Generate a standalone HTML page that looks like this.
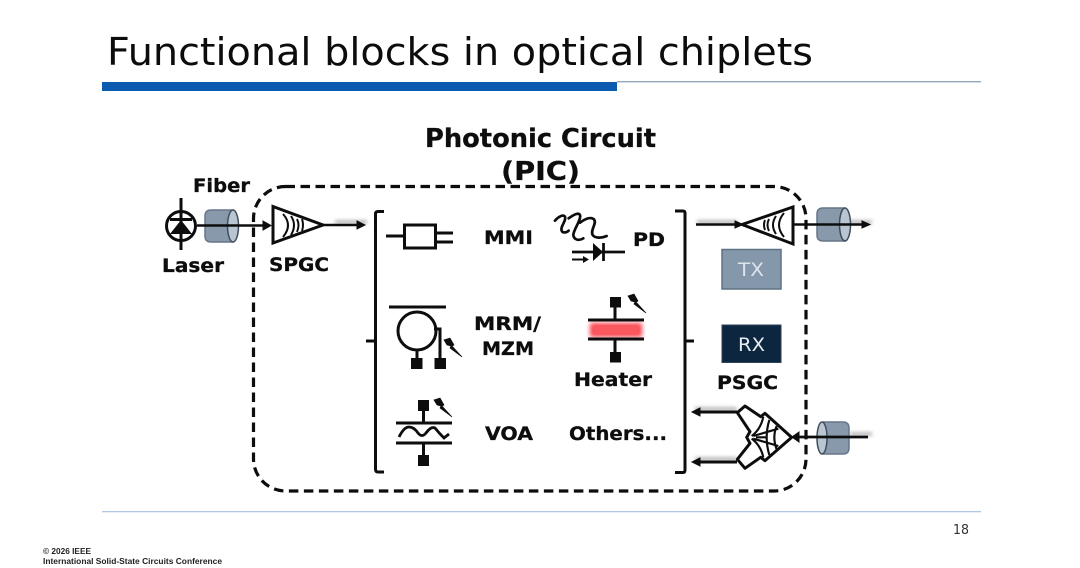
<!DOCTYPE html>
<html>
<head>
<meta charset="utf-8">
<style>
html,body{margin:0;padding:0;background:#fff;width:1080px;height:568px;overflow:hidden}
svg{display:block}
.b{font-family:"DejaVu Sans",sans-serif;font-weight:700;font-size:19px;fill:#111;stroke:#111;stroke-width:.3}
</style>
</head>
<body>
<svg width="1080" height="568" viewBox="0 0 1080 568" xmlns="http://www.w3.org/2000/svg">
<defs>
<filter id="g" x="-30%" y="-300%" width="160%" height="700%"><feGaussianBlur stdDeviation="1.800"/></filter>
<filter id="h" x="-20%" y="-50%" width="140%" height="200%"><feGaussianBlur stdDeviation="2.500"/></filter>
<filter id="s"><feGaussianBlur stdDeviation="0.350"/></filter>
<path id="bolt" d="M0 2L6 0L10 7L8 8L18 19L6 10L7 8L3 7Z" fill="#111" stroke="#111" stroke-width=".7"/>
</defs>
<rect width="1080" height="568" fill="#fff"/>

<text x="107" y="65" font-family="'DejaVu Sans',sans-serif" font-size="38.500" fill="#0c0c0c" textLength="706" lengthAdjust="spacingAndGlyphs">Functional blocks in optical chiplets</text>
<rect x="617" y="81" width="364" height="1.400" fill="#92aabd"/>
<rect x="102" y="82" width="515" height="9" fill="#0b5cb0"/>
<rect x="102" y="511" width="879" height="1.300" fill="#b3c6e2"/>
<text x="953" y="534" font-family="'DejaVu Sans',sans-serif" font-size="13" fill="#333" textLength="16" lengthAdjust="spacingAndGlyphs">18</text>
<text x="43" y="554" font-family="'Liberation Sans',sans-serif" font-weight="700" font-size="8" fill="#222" textLength="48" lengthAdjust="spacingAndGlyphs">© 2026 IEEE</text>
<text x="43" y="564" font-family="'Liberation Sans',sans-serif" font-weight="700" font-size="8" fill="#222" textLength="179" lengthAdjust="spacingAndGlyphs">International Solid-State Circuits Conference</text>

<g filter="url(#s)">
<text class="b" x="425" y="147" style="font-size:26px" textLength="231" lengthAdjust="spacingAndGlyphs">Photonic Circuit</text>
<text class="b" x="501" y="180" style="font-size:26px" textLength="79" lengthAdjust="spacingAndGlyphs">(PIC)</text>
<text class="b" x="193" y="192" textLength="57" lengthAdjust="spacingAndGlyphs">Fiber</text>
<text class="b" x="162" y="272" textLength="62" lengthAdjust="spacingAndGlyphs">Laser</text>
<text class="b" x="269" y="271" textLength="60" lengthAdjust="spacingAndGlyphs">SPGC</text>
<text class="b" x="484" y="244" textLength="49" lengthAdjust="spacingAndGlyphs">MMI</text>
<text class="b" x="633" y="246" textLength="32" lengthAdjust="spacingAndGlyphs">PD</text>
<text class="b" x="474" y="330" textLength="67" lengthAdjust="spacingAndGlyphs">MRM/</text>
<text class="b" x="482" y="355" textLength="52" lengthAdjust="spacingAndGlyphs">MZM</text>
<text class="b" x="574" y="386" textLength="78" lengthAdjust="spacingAndGlyphs">Heater</text>
<text class="b" x="485" y="440" textLength="48" lengthAdjust="spacingAndGlyphs">VOA</text>
<text class="b" x="569" y="440" textLength="98" lengthAdjust="spacingAndGlyphs">Others...</text>
<text class="b" x="717" y="389" textLength="61" lengthAdjust="spacingAndGlyphs">PSGC</text>

<!-- PIC boundary -->
<rect x="253.500" y="186.500" width="552.500" height="304.500" rx="32" fill="none" stroke="#111" stroke-width="3.200" stroke-dasharray="9.500 5.500"/>

<!-- brackets -->
<path d="M384 211.500H378Q375.500 211.500 375.500 214V469Q375.500 472 378 472H384M375 341H366" fill="none" stroke="#111" stroke-width="3"/>
<path d="M675 211H683Q685 211 685 213V470Q685 472.500 683 472.500H675M685 341H694" fill="none" stroke="#111" stroke-width="3"/>

<!-- glows -->
<g fill="#bbb" filter="url(#g)">
<rect x="335" y="220" width="32" height="4"/>
<rect x="697" y="220" width="40" height="4"/>
<rect x="840" y="220" width="32" height="4"/>
<rect x="695" y="407" width="42" height="4"/>
<rect x="695" y="457" width="42" height="4"/>
<rect x="850" y="432" width="22" height="4"/>
</g>

<!-- Fiber left -->
<path d="M211 210H233V242H211Q205 242 205 236V216Q205 210 211 210Z" fill="#8799ab" stroke="#66778a" stroke-width="1.500"/>
<ellipse cx="233" cy="226" rx="5.500" ry="16" fill="#b9c6d2" stroke="#3f4e5c" stroke-width="1.500"/>

<!-- Laser -->
<circle cx="181" cy="226" r="14.500" fill="#fff" stroke="#111" stroke-width="3"/>
<path d="M181 198V250" stroke="#111" stroke-width="3"/>
<path d="M170 219.500H192" stroke="#111" stroke-width="3"/>
<path d="M170 234L192 234L181 220Z" fill="#111"/>

<path d="M197 225.500H268" stroke="#111" stroke-width="2.500"/>
<path d="M263 221L271 225.500L263 230Z" fill="#111" stroke="#111"/>

<!-- SPGC -->
<path d="M273 206.500L323 225L273 243Z" fill="#fff" stroke="#111" stroke-width="3"/>
<path d="M283 214Q293 225 283 237M291 216Q297 225 291 235M297 219Q300 225 297 232M302 219Q304 225 302 231" fill="none" stroke="#111" stroke-width="2"/>
<path d="M323 225H361" stroke="#111" stroke-width="2.500"/>
<path d="M357 221L365 225L357 229Z" fill="#111" stroke="#111"/>

<!-- MMI -->
<path d="M386 236H404M436 233H453M436 242H453" stroke="#111" stroke-width="3"/>
<rect x="404.500" y="225" width="31" height="23" fill="#fff" stroke="#111" stroke-width="3"/>

<!-- PD -->
<g transform="translate(370 200) scale(.3333)" fill="none" stroke="#111" stroke-width="8" stroke-linecap="round">
<path d="M555 62C565 50 580 42 585 50C590 62 570 80 575 92C578 100 590 98 596 92"/>
<path d="M596 55C605 48 625 35 630 45C635 58 610 90 610 105C612 122 630 122 640 115"/>
<path d="M630 68C640 60 660 48 672 58C682 70 660 90 668 105C675 115 695 115 710 108"/>
</g>
<path d="M572 252H625M603.500 243V261" stroke="#111" stroke-width="2.800" fill="none"/>
<path d="M593 243V261L603 252Z" fill="#111"/>
<path d="M572 259.500H586" stroke="#111" stroke-width="2" fill="none"/>
<path d="M583 256L589 259.500L583 263Z" fill="#111"/>

<!-- MRM -->
<path d="M389 307H446" stroke="#111" stroke-width="3"/>
<circle cx="417" cy="331" r="19" fill="none" stroke="#111" stroke-width="3"/>
<path d="M417 350V360M434 329H440V360" fill="none" stroke="#111" stroke-width="3"/>
<rect x="411" y="358" width="11.500" height="11" fill="#111"/>
<rect x="434.500" y="358" width="11.500" height="11" fill="#111"/>
<use href="#bolt" x="444" y="338"/>

<!-- Heater -->
<rect x="590" y="323" width="52" height="14" fill="#f8454f" filter="url(#h)"/>
<rect x="594" y="325" width="44" height="10" fill="#f9595f"/>
<path d="M615 305V320M615 339V355M588 320H644M588 339H644" stroke="#111" stroke-width="3"/>
<rect x="610" y="297" width="11" height="10.500" fill="#111"/>
<rect x="610" y="352" width="11" height="10.500" fill="#111"/>
<use href="#bolt" x="628" y="294"/>

<!-- VOA -->
<path d="M423.500 408V423M423.500 443V457M396 423H452M396 443H452" stroke="#111" stroke-width="3"/>
<path d="M399 437Q404 427 409 427Q414 427 418 433Q422 438 426 433Q431 426 435 428Q439 433 444 438L449 434" fill="none" stroke="#111" stroke-width="2.800"/>
<rect x="418" y="400" width="11" height="11" fill="#111"/>
<rect x="418" y="455" width="11" height="11" fill="#111"/>
<use href="#bolt" x="434" y="398"/>

<!-- TX side -->
<path d="M696 224.500H738" stroke="#111" stroke-width="2.500"/>
<path d="M735 221L743 224.500L735 228Z" fill="#111" stroke="#111"/>
<path d="M742 224.500L793 207V244Z" fill="#fff" stroke="#111" stroke-width="3"/>
<path d="M784 213Q774 225 784 237M776 216Q770 225 776 234M769 219Q766 225 769 231M765 220Q763 225 765 230" fill="none" stroke="#111" stroke-width="2"/>
<path d="M823 208H845V241H823Q817 241 817 235V214Q817 208 823 208Z" fill="#8799ab" stroke="#66778a" stroke-width="1.500"/>
<ellipse cx="845" cy="224.500" rx="5.500" ry="16.500" fill="#b9c6d2" stroke="#3f4e5c" stroke-width="1.500"/>
<path d="M793 224.500H864" stroke="#111" stroke-width="2.500"/>
<path d="M862 221L870 224.500L862 228Z" fill="#111" stroke="#111"/>

<rect x="722" y="249.500" width="59" height="39.500" fill="#8497ab" stroke="#5f7285" stroke-width="1.500"/>
<text x="738" y="276" font-family="'DejaVu Sans',sans-serif" font-size="19" fill="#dde4ea" textLength="26" lengthAdjust="spacingAndGlyphs">TX</text>
<rect x="722" y="325" width="59" height="37.500" fill="#0e2841" stroke="#2d4258" stroke-width="1"/>
<text x="738" y="351" font-family="'DejaVu Sans',sans-serif" font-size="19" fill="#e6ebf0" textLength="27" lengthAdjust="spacingAndGlyphs">RX</text>

<!-- PSGC -->
<path d="M737 412H698M737 462H698" fill="none" stroke="#111" stroke-width="3"/>
<path d="M700 408L692 412L700 416ZM700 458L692 462L700 466Z" fill="#111" stroke="#111"/>
<g transform="translate(730 400) scale(.3333)">
<path d="M22 38L45 18L92 50L105 40L185 112L105 182L92 172L45 205L22 178L60 130L50 112L60 95Z" fill="#fff" stroke="#111" stroke-width="9" stroke-linejoin="round"/>
<path d="M65 108Q92 88 100 50M65 116Q92 136 100 172M118 60Q102 112 118 165M140 78Q126 112 140 148M70 108L145 86M70 116L145 138M78 112H108" fill="none" stroke="#111" stroke-width="6.500"/>
</g>
<path d="M799 432L792 437L799 442Z" fill="#111" stroke="#111" stroke-width="1"/>
<path d="M843 422H823V454H843Q849 454 849 448V428Q849 422 843 422Z" fill="#8799ab" stroke="#66778a" stroke-width="1.500"/>
<ellipse cx="822" cy="438" rx="5" ry="16" fill="#b9c6d2" stroke="#3f4e5c" stroke-width="1.500"/>
<path d="M795 437H868" stroke="#111" stroke-width="2.800"/>
</g>
</svg>
</body>
</html>
